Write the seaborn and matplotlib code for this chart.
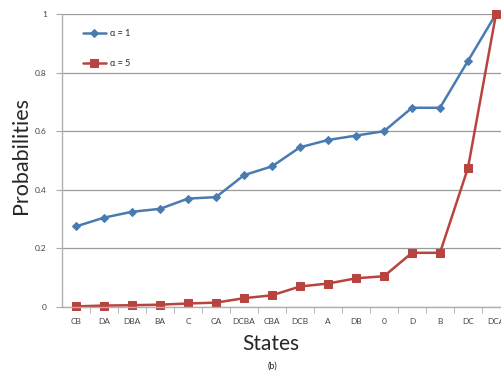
import numpy as np
import pandas as pd
import matplotlib
matplotlib.use('Agg')
import matplotlib.pyplot as plt
import seaborn as sns

states = ['CB', 'DA', 'DBA', 'BA', 'C', 'CA', 'DCBA', 'CBA', 'DCB', 'A',
          'DB', '0', 'D', 'B', 'DC', 'DCA']
alpha1 = [0.275, 0.305, 0.325, 0.335, 0.37, 0.375, 0.45, 0.48, 0.545, 0.57,
          0.585, 0.60, 0.68, 0.68, 0.84, 1.0]
alpha5 = [0.002, 0.005, 0.006, 0.008, 0.012, 0.015, 0.03, 0.04, 0.07, 0.08,
          0.098, 0.105, 0.185, 0.185, 0.475, 1.0]
series_labels = ['α = 1', 'α = 5']
yticks = [0, 0.2, 0.4, 0.6, 0.8, 1]
ytick_labels = ['0', '0.2', '0.4', '0.6', '0.8', '1']

sns.set_style('white')
plt.rcParams['font.family'] = ['Lato', 'DejaVu Sans']

blue = '#4A7BB0'
red = '#B8433F'

fig = plt.figure(figsize=(5.02, 3.72), dpi=100)
# axes run past the right edge of the picture, as in the cropped original
ax = fig.add_axes([62 / 502, 65 / 372, 448 / 502, 293 / 372])

pos = np.arange(len(states))
sns.lineplot(x=pos, y=alpha1, ax=ax, color=blue, marker='D', markersize=4.5,
             markeredgecolor=blue, linewidth=1.8, label=series_labels[0], clip_on=False)
sns.lineplot(x=pos, y=alpha5, ax=ax, color=red, marker='s', markersize=5.5,
             markeredgecolor=red, linewidth=1.8, label=series_labels[1], clip_on=False)

ax.set_xlim(-0.5, 15.5)
ax.set_ylim(0, 1)
ax.set_xticks(pos)
ax.set_xticklabels(states, fontsize=6, color='#444444')
ax.set_xticks(pos + 0.5, minor=True)
ax.set_yticks(yticks)
ax.set_yticklabels(ytick_labels, fontsize=6, color='#444444')
ax.tick_params(axis='x', which='major', length=0, pad=8)
ax.tick_params(axis='x', which='minor', length=4, color='#aaaaaa', direction='out', bottom=True)
ax.tick_params(axis='y', length=4, color='#aaaaaa', direction='out', left=True, pad=7)

ax.yaxis.grid(True, color='#9a9a9a', linewidth=0.9)
ax.xaxis.grid(False)
ax.set_axisbelow(True)
for s in ['top', 'right']:
    ax.spines[s].set_visible(False)
for s in ['left', 'bottom']:
    ax.spines[s].set_color('#b0b0b0')
    ax.spines[s].set_linewidth(1)

ax.set_ylabel('Probabilities', fontsize=15.5)
ax.yaxis.set_label_coords(-41 / 448, (307 - 155) / 293)
ax.yaxis.label.set_va('center')
ax.set_xlabel('States', fontsize=15)
ax.xaxis.set_label_coords((271 - 62) / 448, -(344 - 307) / 293)
ax.xaxis.label.set_va('center')
fig.text(273 / 502, 1 - 366 / 372, '(b)', fontsize=6.5, ha='center', va='center')

ax.legend(loc='upper left', bbox_to_anchor=(0.028, 0.975), frameon=False,
          fontsize=6.5, handlelength=2.6, labelspacing=2.3, handletextpad=0.4)

fig.savefig('out.png', dpi=100)
